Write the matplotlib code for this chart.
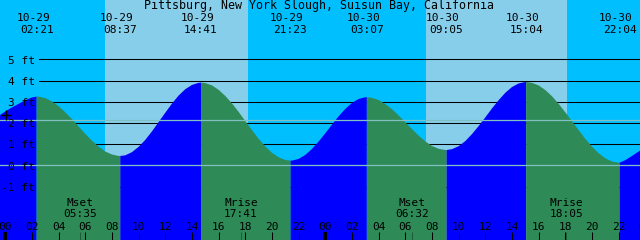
import numpy as np
import matplotlib
matplotlib.use("Agg")
import matplotlib.pyplot as plt

plt.rcParams['font.family'] = ['DejaVu Sans Mono']
plt.rcParams['font.size'] = 8

title = "Pittsburg, New York Slough, Suisun Bay, California"

# high / low water
tide_dates = ["10-29", "10-29", "10-29", "10-29", "10-30", "10-30", "10-30", "10-30"]
tide_clock = ["02:21", "08:37", "14:41", "21:23", "03:07", "09:05", "15:04", "22:04"]
tide_feet = [3.24, 0.44, 3.90, 0.22, 3.21, 0.72, 3.93, 0.12]
tide_kind = ["H", "L", "H", "L", "H", "L", "H", "L"]

# level every half hour, from 10-29 -01:00 to 10-31 00:00
level_start, level_step = -1.0, 0.5
level_feet = [2.00, 2.33, 2.54, 2.73, 2.90, 3.07, 3.20, 3.24, 3.17, 3.01,
              2.79, 2.50, 2.18, 1.83, 1.48, 1.16, 0.88, 0.65, 0.51, 0.44,
              0.47, 0.62, 0.87, 1.20, 1.60, 2.04, 2.48, 2.91, 3.29, 3.59,
              3.79, 3.89, 3.88, 3.77, 3.56, 3.27, 2.92, 2.52, 2.09, 1.66,
              1.25, 0.89, 0.59, 0.38, 0.25, 0.22, 0.30, 0.49, 0.77, 1.12,
              1.51, 1.92, 2.31, 2.66, 2.94, 3.13, 3.21, 3.18, 3.08, 2.89,
              2.65, 2.35, 2.03, 1.71, 1.40, 1.13, 0.91, 0.78, 0.72, 0.76,
              0.90, 1.14, 1.47, 1.85, 2.26, 2.68, 3.07, 3.42, 3.69, 3.86,
              3.93, 3.89, 3.77, 3.55, 3.26, 2.90, 2.50, 2.08, 1.66, 1.25,
              0.88, 0.57, 0.33, 0.18, 0.12, 0.24, 0.44, 0.65, 0.85]

# daylight
sun_dates = ["10-29", "10-30"]
sunrise_clock = ["07:29", "07:33"]
sunset_clock = ["18:12", "18:07"]

# moon
moon_dates = ["10-29", "10-29", "10-30", "10-30"]
moon_clock = ["05:35", "17:41", "06:32", "18:05"]
moon_kind = ["Mset", "Mrise", "Mset", "Mrise"]

level_labels = [5, 4, 3, 2, 1, 0, -1]
grid_feet = [5, 4, 3, 2, 1, -1]
datum_feet = 0.0
msl_feet = 2.12
now_hour = 0.05
now_feet = 2.37

# colours
night_col = "#00BFFF"
day_col = "#87CEEB"
flood_col = "#0000FF"
ebb_col = "#2E8B57"
line_col = "#80C0C0"
moon_tick_col = "#1E5C3A"

# pixel scale of the original picture
W, H = 640, 240
PX_HR = 13.333
PX_FT = 21.2
X0_PX = 5.3      # 10-29 00:00
Y0_PX = 165.3    # 0 ft


def to_hours(date, clock):
    day = int(date.split("-")[1]) - 29
    hh, mm = clock.split(":")
    return day * 24 + int(hh) + int(mm) / 60.0


tide_hours = [to_hours(d, c) for d, c in zip(tide_dates, tide_clock)]
level_hours = level_start + level_step * np.arange(len(level_feet))

t = np.concatenate([level_hours, tide_hours])
f = np.concatenate([level_feet, tide_feet])
order = np.argsort(t, kind="stable")
t, f = t[order], f[order]

xmin = -X0_PX / PX_HR
xmax = (W - X0_PX) / PX_HR
ymax = Y0_PX / PX_FT
ymin = -(H - Y0_PX) / PX_FT

fig = plt.figure(figsize=(6.4, 2.4), dpi=100)
ax = fig.add_axes([0, 0, 1, 1])
ax.set_facecolor(night_col)
ax.set_xlim(xmin, xmax)
ax.set_ylim(ymin, ymax)
ax.set_xticks([])
ax.set_yticks([])
for s in ax.spines.values():
    s.set_visible(False)

# day / night
for d, r, s in zip(sun_dates, sunrise_clock, sunset_clock):
    ax.axvspan(to_hours(d, r), to_hours(d, s), color=day_col, lw=0, zorder=0)

# grid behind the water
for g in grid_feet:
    ax.axhline(g, xmin=39 / W, xmax=1, color="black", lw=0.75, zorder=1)

# water: ebb from high to the next low, flood otherwise
falling = np.zeros(len(t), dtype=bool)
inner = np.zeros(len(t), dtype=bool)
for i, k in enumerate(tide_kind):
    if k == "H" and i + 1 < len(tide_hours):
        hi, lo = tide_hours[i], tide_hours[i + 1]
        falling |= (t >= hi) & (t <= lo)
        inner |= (t > hi) & (t < lo)
rising = ~inner
ax.fill_between(t, f, ymin, where=rising, color=flood_col, lw=0, zorder=2)
ax.fill_between(t, f, ymin, where=falling, color=ebb_col, lw=0, zorder=2)

# datum and mean sea level
ax.axhline(datum_feet, color=line_col, lw=0.9, zorder=3)
ax.axhline(msl_feet, color=line_col, lw=0.9, zorder=3)

# level labels
ytr = ax.get_yaxis_transform()
for lv in level_labels:
    ax.text(35 / W, lv - 4.3 / PX_FT, f"{lv} ft", transform=ytr,
            ha="right", va="baseline", zorder=5)

ax.plot([now_hour], [now_feet], marker="+", color="black", ms=7, mew=1,
        zorder=5)

# title and tide event labels
ax.text(319.2 / W, 1 - 9.3 / H, title, transform=ax.transAxes,
        ha="center", va="baseline", fontsize=8.4, zorder=5)
xtr = ax.get_xaxis_transform()
for d, c, th in zip(tide_dates, tide_clock, tide_hours):
    ax.text(th - 3.5 / PX_HR, 1 - 20.7 / H, d, transform=xtr,
            ha="center", va="baseline", zorder=5)
    ax.text(th, 1 - 33.3 / H, c, transform=xtr,
            ha="center", va="baseline", zorder=5)

# moon events
tick_len = 8 / PX_FT
for d, c, k in zip(moon_dates, moon_clock, moon_kind):
    mh = to_hours(d, c)
    ax.text(mh, 1 - 206 / H, k, transform=xtr, ha="center", va="baseline",
            zorder=5)
    ax.text(mh, 1 - 217.3 / H, c, transform=xtr, ha="center",
            va="baseline", zorder=5)
    ax.vlines(mh, ymin, ymin + tick_len, color=moon_tick_col, lw=0.75,
              zorder=4)

# hour ticks along the bottom
for hr in range(0, 50, 2):
    lw = 2.9 if hr % 24 == 0 else 0.75
    ax.vlines(hr, ymin, ymin + tick_len, color="black", lw=lw, zorder=4)
    ax.text(hr, 1 - 230 / H, f"{hr % 24:02d}", transform=xtr,
            ha="center", va="baseline", zorder=5)

fig.savefig("out.png", dpi=100)
